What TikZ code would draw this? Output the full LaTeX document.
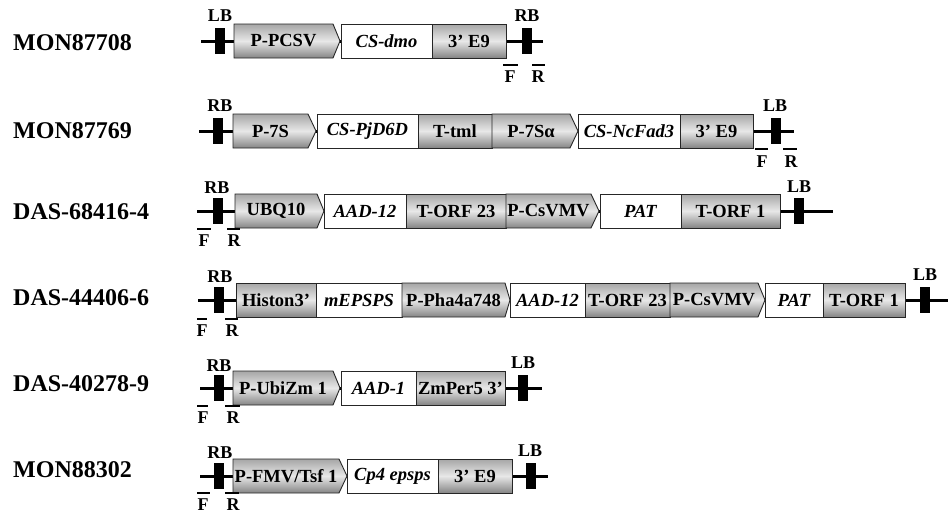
\documentclass[tikz,border=0pt]{standalone}
\usepackage{fontspec}
\setmainfont{Liberation Serif}
\tikzset{
 graybox/.style={draw=black!85, line width=0.9pt, top color=black!35, bottom color=black!48, middle color=black!9},
 whitebox/.style={draw=black!85, line width=0.9pt, fill=white},
 btext/.style={inner sep=0pt, font=\fontsize{18.5}{18.5}\selectfont\bfseries},
 gtext/.style={inner sep=0pt, font=\fontsize{18.5}{18.5}\selectfont\bfseries\itshape},
 rowlabel/.style={anchor=west, inner sep=0pt, font=\fontsize{24}{24}\selectfont\bfseries},
 bordertext/.style={inner sep=0pt, font=\fontsize{18}{18}\selectfont\bfseries},
 backbone/.style={line width=3pt},
 primer/.style={line width=2.5pt},
}
\newcommand\mkgray[5]{%
 \path[graybox] (#1,#3-17) rectangle (#2,#3+17);
 \node[btext] (#4) at ({(#1+#2)/2},#3) {#5};}
\newcommand\mkwhite[6]{%
 \path[whitebox] (#1,#3-17) rectangle (#2,#3+17);
 \node[#6] (#4) at ({(#1+#2)/2},#3) {#5};}
\newcommand\mkprom[6]{%
 \path[graybox] (#1,#4-17) -- (#2,#4-17) -- (#3,#4) -- (#2,#4+17) -- (#1,#4+17) -- cycle;
 \node[btext] (#5) at ({(#1+#2)/2},#4) {#6};}
\newcommand\mkborder[3]{%
 \fill (#1-5,#2-13) rectangle (#1+5,#2+13);
 \coordinate (#3) at (#1,#2);}
\newcommand\mkprimer[4]{%
 \coordinate (#4a) at (#1,#3); \coordinate (#4b) at (#2,#3);
 \draw[primer] (#4a) -- (#4b);}
\begin{document}
\begin{tikzpicture}[x=1pt,y=-1pt]
\useasboundingbox (0,0) rectangle (948,515);
% row labels
\node[rowlabel] (n1) at (13,43) {MON87708};
\node[rowlabel] (n2) at (13,131) {MON87769};
\node[rowlabel] (n3) at (13,212) {DAS-68416-4};
\node[rowlabel] (n4) at (13,298) {DAS-44406-6};
\node[rowlabel] (n5) at (13,384) {DAS-40278-9};
\node[rowlabel] (n6) at (13,470) {MON88302};

% ---------- Row 1 ----------
\coordinate (l1a) at (201,41); \coordinate (l1b) at (543,41);
\draw[backbone] (l1a) -- (l1b);
\mkprom{234}{333}{340}{41}{a1}{P-PCSV}
\mkwhite{341}{432}{41}{a2}{CS-dmo}{gtext}
\mkgray{432}{506}{41}{a3}{3’ E9}
\mkborder{220}{41}{a0}
\mkborder{527}{41}{a9}
\node[bordertext] (lb1) at (220,16) {LB};
\node[bordertext] (rb1) at (527,16) {RB};
\mkprimer{503}{518}{65}{pf1}
\mkprimer{532}{545}{65}{pr1}
\node[bordertext] (f1) at (510,77) {F};
\node[bordertext] (r1) at (538,77) {R};

% ---------- Row 2 ----------
\coordinate (l2a) at (199,131); \coordinate (l2b) at (794,131);
\draw[backbone] (l2a) -- (l2b);
\mkprom{233}{308}{316}{131}{b1}{P-7S}
\mkwhite{317}{418}{131}{b2}{CS-PjD6D}{gtext}
\mkgray{418}{492}{131}{b3}{T-tml}
\mkprom{492}{570}{578}{131}{b4}{P-7Sα}
\mkwhite{578}{680}{131}{b5}{CS-NcFad3}{gtext}
\mkgray{680}{753}{131}{b6}{3’ E9}
\mkborder{218}{131}{b0}
\mkborder{776}{131}{b9}
\node[bordertext] (rb2) at (220,106) {RB};
\node[bordertext] (lb2) at (775,106) {LB};
\mkprimer{755}{768}{149}{pf2}
\mkprimer{783}{797}{149}{pr2}
\node[bordertext] (f2) at (762,162) {F};
\node[bordertext] (r2) at (791,162) {R};

% ---------- Row 3 ----------
\coordinate (l3a) at (197,211); \coordinate (l3b) at (833,211);
\draw[backbone] (l3a) -- (l3b);
\mkprom{235}{317}{324}{211}{c1}{UBQ10}
\mkwhite{324}{406}{211}{c2}{AAD-12}{gtext}
\mkgray{406}{506}{211}{c3}{T-ORF 23}
\mkprom{506}{591}{599}{211}{c4}{P-CsVMV}
\mkwhite{600}{681}{211}{c5}{PAT}{gtext}
\mkgray{681}{780}{211}{c6}{T-ORF 1}
\mkborder{218}{211}{c0}
\mkborder{799}{211}{c9}
\node[bordertext] (rb3) at (217,188) {RB};
\node[bordertext] (lb3) at (799,187) {LB};
\mkprimer{197}{211}{229}{pf3}
\mkprimer{227}{240}{229}{pr3}
\node[bordertext] (f3) at (204,241) {F};
\node[bordertext] (r3) at (234,241) {R};

% ---------- Row 4 ----------
\coordinate (l4a) at (198,300); \coordinate (l4b) at (948,300);
\draw[backbone] (l4a) -- (l4b);
\mkgray{236}{316}{300}{d1}{Histon3’}
\mkwhite{316}{402}{300}{d2}{mEPSPS}{gtext}
\mkprom{402}{505}{510}{300}{d3}{P-Pha4a748}
\mkwhite{510}{585}{300}{d4}{AAD-12}{gtext}
\mkgray{585}{670}{300}{d5}{T-ORF 23}
\mkprom{670}{758}{765}{300}{d6}{P-CsVMV}
\mkwhite{765}{823}{300}{d7}{PAT}{gtext}
\mkgray{823}{905}{300}{d8}{T-ORF 1}
\mkborder{219}{300}{d0}
\mkborder{925}{300}{d9}
\node[bordertext] (rb4) at (220,277) {RB};
\node[bordertext] (lb4) at (925,275) {LB};
\mkprimer{197}{207}{319}{pf4}
\mkprimer{225}{238}{319}{pr4}
\node[bordertext] (f4) at (202,331) {F};
\node[bordertext] (r4) at (232,331) {R};

% ---------- Row 5 ----------
\coordinate (l5a) at (200,388); \coordinate (l5b) at (542,388);
\draw[backbone] (l5a) -- (l5b);
\mkprom{233}{333}{340}{388}{e1}{P-UbiZm 1}
\mkwhite{341}{416}{388}{e2}{AAD-1}{gtext}
\mkgray{416}{505}{388}{e3}{ZmPer5 3’}
\mkborder{219}{388}{e0}
\mkborder{523}{388}{e9}
\node[bordertext] (rb5) at (219,366) {RB};
\node[bordertext] (lb5) at (523,363) {LB};
\mkprimer{197}{208}{406}{pf5}
\mkprimer{225}{240}{406}{pr5}
\node[bordertext] (f5) at (203,418) {F};
\node[bordertext] (r5) at (233,418) {R};

% ---------- Row 6 ----------
\coordinate (l6a) at (200,476); \coordinate (l6b) at (548,476);
\draw[backbone] (l6a) -- (l6b);
\mkprom{233}{339}{347}{476}{f1b}{P-FMV/Tsf 1}
\mkwhite{347}{438}{476}{f2b}{Cp4 epsps}{gtext}
\mkgray{438}{512}{476}{f3b}{3’ E9}
\mkborder{219}{476}{f0}
\mkborder{531}{476}{f9}
\node[bordertext] (rb6) at (220,453) {RB};
\node[bordertext] (lb6) at (530,451) {LB};
\mkprimer{197}{210}{493}{pf6}
\mkprimer{225}{239}{493}{pr6}
\node[bordertext] (f6) at (203,505) {F};
\node[bordertext] (r6) at (233,505) {R};
\end{tikzpicture}
\end{document}
